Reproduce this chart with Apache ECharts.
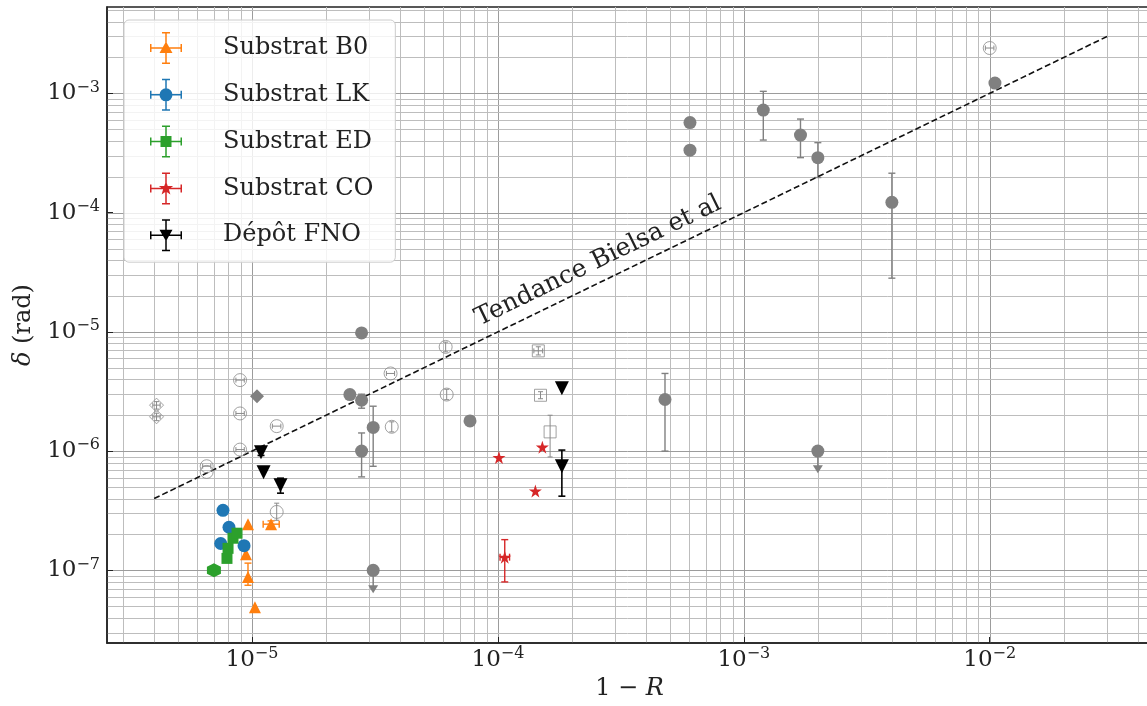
<!DOCTYPE html>
<html><head><meta charset="utf-8">
<script src="https://cdn.jsdelivr.net/npm/echarts@6/dist/echarts.min.js"></script>
<style>html,body{margin:0;padding:0;background:#fff}#c{width:1147px;height:706px}</style>
</head><body><div id="c"></div>
<script>
// Rows: [1-R, delta, xLow, xHigh, yLow, yHigh]  (null = no error bar)
const substratB0 = [
  [9.63e-6, 2.44e-7, null, null, null, null],
  [1.195e-5, 2.44e-7, 1.11e-5, 1.29e-5, 2.3e-7, 2.6e-7],
  [9.45e-6, 1.365e-7, null, null, 1.25e-7, 1.5e-7],
  [9.63e-6, 8.8e-8, null, null, 7.5e-8, 1.15e-7],
  [1.028e-5, 4.9e-8, null, null, null, null]
];
const substratLK = [
  [7.62e-6, 3.19e-7, null, null, null, null],
  [8.06e-6, 2.30e-7, null, null, null, null],
  [7.46e-6, 1.68e-7, null, null, null, null],
  [9.28e-6, 1.61e-7, null, null, null, null]
];
const substratED = [
  [7.0e-6, 1.0e-7, null, null, null, null],
  [7.91e-6, 1.26e-7, null, null, null, null],
  [7.99e-6, 1.53e-7, null, null, null, null],
  [8.37e-6, 1.86e-7, null, null, null, null],
  [8.69e-6, 2.05e-7, null, null, null, null]
];
const substratCO = [
  [1.01e-4, 8.83e-7, null, null, null, null],
  [1.516e-4, 1.08e-6, null, null, null, null],
  [1.42e-4, 4.63e-7, null, null, null, null],
  [1.066e-4, 1.29e-7, 1.02e-4, 1.115e-4, 8.0e-8, 1.81e-7]
];
const depotFNO = [
  [1.088e-5, 9.8e-7, null, null, 9.2e-7, 1.04e-6],
  [1.114e-5, 6.65e-7, null, null, null, null],
  [1.306e-5, 5.18e-7, null, null, 4.44e-7, 5.93e-7],
  [1.82e-4, 3.37e-6, null, null, null, null],
  [1.82e-4, 7.47e-7, null, null, 4.19e-7, 1.02e-6]
];
const otherFilled = [
  [6.04e-4, 5.69e-4, null, null, null, null],
  [6.04e-4, 3.34e-4, null, null, null, null],
  [1.2e-3, 7.24e-4, null, null, 4.06e-4, 1.04e-3],
  [1.70e-3, 4.47e-4, null, null, 2.89e-4, 6.09e-4],
  [2.0e-3, 2.89e-4, null, null, 1.97e-4, 3.86e-4],
  [4.0e-3, 1.22e-4, null, null, 2.82e-5, 2.14e-4],
  [1.05e-2, 1.22e-3, null, null, null, null],
  [4.78e-4, 2.71e-6, null, null, 1.0e-6, 4.48e-6],
  [2.0e-3, 1.0e-6, null, null, null, null],
  [7.70e-5, 1.79e-6, null, null, null, null],
  [2.79e-5, 9.8e-6, null, null, null, null],
  [2.50e-5, 2.98e-6, null, null, null, null],
  [2.79e-5, 2.67e-6, null, null, 2.29e-6, 3.0e-6],
  [3.11e-5, 1.58e-6, null, null, 7.46e-7, 2.38e-6],
  [2.79e-5, 1.0e-6, null, null, 6.08e-7, 1.42e-6],
  [3.11e-5, 1.0e-7, null, null, null, null]
];
// upper limits: [1-R, delta, arrow tip]
const otherUpperLimits = [
  [2.0e-3, 1.0e-6, 6.53e-7],
  [3.11e-5, 1.0e-7, 6.43e-8]
];
const otherDiamondFilled = [
  [1.048e-5, 2.89e-6, null, null, null, null]
];
const otherOpenCircles = [
  [8.94e-6, 3.94e-6, 8.6e-6, 9.3e-6, null, null],
  [8.94e-6, 2.07e-6, 8.6e-6, 9.3e-6, null, null],
  [8.94e-6, 1.03e-6, 8.6e-6, 9.3e-6, null, null],
  [1.26e-5, 1.62e-6, 1.21e-5, 1.31e-5, null, null],
  [6.54e-6, 7.47e-7, 6.3e-6, 6.8e-6, null, null],
  [6.54e-6, 6.69e-7, null, null, null, null],
  [1.26e-5, 3.09e-7, null, null, 2.63e-7, 3.66e-7],
  [3.66e-5, 4.48e-6, 3.52e-5, 3.8e-5, null, null],
  [6.13e-5, 7.48e-6, null, null, 6.8e-6, 8.2e-6],
  [6.19e-5, 2.98e-6, null, null, 2.7e-6, 3.3e-6],
  [3.70e-5, 1.60e-6, null, null, 1.45e-6, 1.76e-6],
  [1.0e-2, 2.4e-3, 9.6e-3, 1.04e-2, null, null]
];
const otherOpenDiamonds = [
  [4.09e-6, 2.43e-6, 3.95e-6, 4.23e-6, 2.25e-6, 2.6e-6],
  [4.09e-6, 1.94e-6, 3.95e-6, 4.23e-6, 1.8e-6, 2.08e-6]
];
const otherOpenSquares = [
  [1.46e-4, 6.93e-6, 1.40e-4, 1.52e-4, 6.4e-6, 7.5e-6],
  [1.49e-4, 2.94e-6, null, null, 2.75e-6, 3.15e-6],
  [1.63e-4, 1.45e-6, null, null, 8.94e-7, 2.0e-6]
];
const trendBielsa = [[4e-6, 4e-7], [3e-2, 3e-3]];
const trendLabel = 'Tendance Bielsa et al';
const xTickValues = [1e-5, 1e-4, 1e-3, 1e-2];
const yTickValues = [1e-7, 1e-6, 1e-5, 1e-4, 1e-3];
const gridMultipliers = [1, 2, 3, 4, 5, 6, 7, 8, 9];
const xRange = [2.572e-6, 0.0457];
const yRange = [2.46e-8, 5.3e-3];

const FONT = 'DejaVu Serif';
const GRAY = '#808080';
const OPENGRAY = '#8a8a8a';

function ok(v) { return v != null && isFinite(v) && v > 0; }
function errorBars(color, lw, cap) {
  return function (params, api) {
    const x = api.value(0), y = api.value(1);
    const xlo = api.value(2), xhi = api.value(3), ylo = api.value(4), yhi = api.value(5);
    const st = { stroke: color, lineWidth: lw };
    const kids = [];
    const L = (x1, y1, x2, y2) => kids.push({ type: 'line', shape: { x1, y1, x2, y2 }, style: st });
    if (ok(ylo) && ok(yhi)) {
      const a = api.coord([x, ylo]), b = api.coord([x, yhi]);
      L(a[0], a[1], b[0], b[1]);
      L(a[0] - cap, a[1], a[0] + cap, a[1]);
      L(b[0] - cap, b[1], b[0] + cap, b[1]);
    }
    if (ok(xlo) && ok(xhi)) {
      const a = api.coord([xlo, y]), b = api.coord([xhi, y]);
      L(a[0], a[1], b[0], b[1]);
      L(a[0], a[1] - cap, a[0], a[1] + cap);
      L(b[0], b[1] - cap, b[0], b[1] + cap);
    }
    return { type: 'group', children: kids };
  };
}
function upperLimitArrow(params, api) {
  const p = api.coord([api.value(0), api.value(1)]);
  const t = api.coord([api.value(0), api.value(2)]);
  return { type: 'group', children: [
    { type: 'line', shape: { x1: p[0], y1: p[1], x2: t[0], y2: t[1] - 4 }, style: { stroke: GRAY, lineWidth: 1.5 } },
    { type: 'polygon', shape: { points: [[t[0] - 5, t[1] - 8], [t[0] + 5, t[1] - 8], [t[0], t[1]]] }, style: { fill: GRAY } }
  ] };
}
function errSeries(name, data, color, lw, cap, z) {
  return { type: 'custom', name, data, renderItem: errorBars(color, lw, cap), encode: { x: 0, y: 1 },
    itemStyle: { color }, z: z || 3, silent: true, clip: false };
}
function scatter(name, data, symbol, size, color, extra) {
  return Object.assign({ type: 'scatter', name, data, symbol, symbolSize: size, encode: { x: 0, y: 1 },
    itemStyle: { color, opacity: 1 }, z: 5, silent: true }, extra || {});
}

// grid lines at k * 10^n, drawn through the axes
function gridValues(range) {
  const out = [];
  const e0 = Math.floor(Math.log10(range[0])), e1 = Math.ceil(Math.log10(range[1]));
  for (let e = e0; e <= e1; e++) {
    gridMultipliers.forEach(k => {
      const v = k * Math.pow(10, e);
      if (v > range[0] * 1.001 && v < range[1] * 0.999) out.push([v, k]);
    });
  }
  return out;
}
const vGrid = gridValues(xRange).map(r => [r[0], yRange[0], r[1]]);
const hGrid = gridValues(yRange).map(r => [xRange[0], r[0], r[1]]);
function gridRender(vertical) {
  return function (params, api) {
    const cs = params.coordSys;
    const p = api.coord([api.value(0), api.value(1)]);
    const major = api.value(2) === 1;
    const style = { stroke: major ? '#9c9c9c' : '#bdbdbd', lineWidth: 1 };
    const shape = vertical
      ? { x1: Math.round(p[0]) + 0.5, y1: cs.y, x2: Math.round(p[0]) + 0.5, y2: cs.y + cs.height }
      : { x1: cs.x, y1: Math.round(p[1]) + 0.5, x2: cs.x + cs.width, y2: Math.round(p[1]) + 0.5 };
    return { type: 'line', shape, style };
  };
}

// legend icons (error-bar cross + marker) in 32x32 box
const XB = 'M0,15.25 L32,15.25 L32,16.75 L0,16.75 Z M15.25,0 L16.75,0 L16.75,32 L15.25,32 Z ' +
  'M12,0 L20,0 L20,1.5 L12,1.5 Z M12,30.5 L20,30.5 L20,32 L12,32 Z ' +
  'M0,12 L1.5,12 L1.5,20 L0,20 Z M30.5,12 L32,12 L32,20 L30.5,20 Z ';
const ICONS = {
  'Substrat B0': 'path://' + XB + 'M16,9.5 L22.5,21 L9.5,21 Z',
  'Substrat LK': 'path://' + XB + 'M22.5,16 A6.5,6.5 0 1,1 9.5,16 A6.5,6.5 0 1,1 22.5,16 Z',
  'Substrat ED': 'path://' + XB + 'M10.5,10.5 L21.5,10.5 L21.5,21.5 L10.5,21.5 Z',
  'Substrat CO': 'path://' + XB + 'M16,8.5 L17.76,13.57 L23.13,13.68 L18.85,16.93 L20.41,22.07 L16,19 L11.59,22.07 L13.15,16.93 L8.87,13.68 L14.24,13.57 Z',
  'Dépôt FNO': 'path://' + XB + 'M9.5,10.5 L22.5,10.5 L16,22 Z'
};
const LEGEND_COLORS = { 'Substrat B0': '#ff7f0e', 'Substrat LK': '#1f77b4', 'Substrat ED': '#2ca02c', 'Substrat CO': '#d62728', 'Dépôt FNO': '#000000' };
const STAR = 'path://M0,-1 L0.2245,-0.309 L0.951,-0.309 L0.363,0.118 L0.588,0.809 L0,0.382 L-0.588,0.809 L-0.363,0.118 L-0.951,-0.309 L-0.2245,-0.309 Z';
const HEX = 'path://M0,-1 L0.866,-0.5 L0.866,0.5 L0,1 L-0.866,0.5 L-0.866,-0.5 Z';

function tickFmt(v) {
  const e = Math.log10(v), n = Math.round(e);
  if (Math.abs(e - n) > 1e-6) return '';
  return '{b|10}{s|' + (n < 0 ? '\u2212' + (-n) : n) + '}';
}
const tickRich = {
  b: { fontFamily: FONT, fontSize: 23, lineHeight: 28, color: '#222' },
  s: { fontFamily: FONT, fontSize: 16, lineHeight: 15, verticalAlign: 'top', color: '#222' }
};

const chart = echarts.init(document.getElementById('c'), null, { renderer: 'canvas' });
const legendNames = ['Substrat B0', 'Substrat LK', 'Substrat ED', 'Substrat CO', 'Dépôt FNO'];

const option = {
  animation: false,
  backgroundColor: '#fff',
  grid: { left: 107, top: 7, right: -5, bottom: 63, show: true, borderColor: '#222', borderWidth: 1.5, outerBoundsMode: 'none', containLabel: false },
  xAxis: {
    type: 'log', logBase: 10, min: xRange[0], max: xRange[1],
    axisLine: { show: true, lineStyle: { color: '#222', width: 1.5 } },
    axisTick: { show: true, inside: true, length: 6, lineStyle: { color: '#222' }, customValues: xTickValues },
    axisLabel: { formatter: tickFmt, rich: tickRich, margin: 3, customValues: xTickValues },
    splitLine: { show: false }, minorTick: { show: false }, minorSplitLine: { show: false },
    name: '{n|1 \u2212 }{i|R}', nameLocation: 'middle', nameGap: 32,
    nameTextStyle: { rich: { n: { fontFamily: FONT, fontSize: 24, color: '#222' }, i: { fontFamily: FONT, fontSize: 24, fontStyle: 'italic', color: '#222' } } }
  },
  yAxis: {
    type: 'log', logBase: 10, min: yRange[0], max: yRange[1],
    axisLine: { show: true, lineStyle: { color: '#222', width: 1.5 } },
    axisTick: { show: true, inside: true, length: 6, lineStyle: { color: '#222' }, customValues: yTickValues },
    axisLabel: { formatter: tickFmt, rich: tickRich, margin: 7, customValues: yTickValues },
    splitLine: { show: false }, minorTick: { show: false }, minorSplitLine: { show: false },
    name: '{i|\u03b4} (rad)', nameLocation: 'middle', nameGap: 64, nameRotate: 90,
    nameTextStyle: { fontFamily: FONT, fontSize: 24, color: '#222', rich: { i: { fontFamily: FONT, fontSize: 24, fontStyle: 'italic', color: '#222' } } }
  },
  legend: {
    orient: 'vertical', left: 124, top: 20, itemWidth: 32, itemHeight: 32, itemGap: 14.8,
    padding: [12, 22, 11, 26],
    backgroundColor: 'rgba(255,255,255,0.82)', borderColor: '#cccccc', borderWidth: 1, borderRadius: 5,
    formatter: n => '{t|' + n + '}',
    textStyle: { fontFamily: FONT, fontSize: 24, color: '#222', rich: { t: { fontFamily: FONT, fontSize: 24, color: '#222', padding: [0, 0, 0, 36] } } },
    selectedMode: false,
    data: legendNames.map(n => ({ name: n, icon: ICONS[n], itemStyle: { color: LEGEND_COLORS[n] } }))
  },
  series: [
    { type: 'custom', name: 'vgrid', data: vGrid, encode: { x: 0, y: 1 }, renderItem: gridRender(true), z: 0, silent: true },
    { type: 'custom', name: 'hgrid', data: hGrid, encode: { x: 0, y: 1 }, renderItem: gridRender(false), z: 0, silent: true },
    { type: 'line', name: 'trend', data: trendBielsa, showSymbol: false, silent: true, z: 4,
      lineStyle: { color: '#111', width: 1.6, type: [6, 3] } },
    // legend groups (scatter first so the legend takes their colour)
    scatter('Substrat B0', substratB0, 'triangle', 12, '#ff7f0e'),
    errSeries('Substrat B0', substratB0, '#ff7f0e', 1.4, 3.5, 4),
    scatter('Substrat LK', substratLK, 'circle', 13, '#1f77b4'),
    errSeries('Substrat LK', substratLK, '#1f77b4', 1.4, 3.5, 4),
    scatter('Substrat ED', substratED.map((r, i) => i === 0 ? { value: r, symbol: HEX, symbolSize: 14 } : r), 'rect', 11, '#2ca02c'),
    errSeries('Substrat ED', substratED, '#2ca02c', 1.4, 3.5, 4),
    scatter('Substrat CO', substratCO, STAR, 13, '#d62728'),
    errSeries('Substrat CO', substratCO, '#d62728', 1.4, 3.5, 4),
    scatter('Dépôt FNO', depotFNO, 'triangle', 14, '#000000', { symbolRotate: 180 }),
    errSeries('Dépôt FNO', depotFNO, '#000000', 1.6, 3.5, 4),
    // others (gray)
    errSeries('otherErr', otherFilled, GRAY, 1.4, 3.5),
    { type: 'custom', name: 'otherUL', data: otherUpperLimits, renderItem: upperLimitArrow, encode: { x: 0, y: 1 }, z: 3, silent: true },
    scatter('otherFilled', otherFilled, 'circle', 13, GRAY),
    scatter('otherDiamond', otherDiamondFilled, 'diamond', 14, GRAY),
    errSeries('otherOpenErr', otherOpenCircles, OPENGRAY, 1, 2.5),
    errSeries('otherOpenDErr', otherOpenDiamonds, OPENGRAY, 1, 2.5),
    errSeries('otherOpenSErr', otherOpenSquares, OPENGRAY, 1, 2.5),
    scatter('otherOpenC', otherOpenCircles, 'circle', 13, 'rgba(255,255,255,0)', { itemStyle: { color: 'rgba(255,255,255,0)', borderColor: OPENGRAY, borderWidth: 1 } }),
    scatter('otherOpenD', otherOpenDiamonds, 'diamond', 14, 'rgba(255,255,255,0)', { itemStyle: { color: 'rgba(255,255,255,0)', borderColor: OPENGRAY, borderWidth: 1 } }),
    scatter('otherOpenS', otherOpenSquares, 'rect', 12, 'rgba(255,255,255,0)', { itemStyle: { color: 'rgba(255,255,255,0)', borderColor: OPENGRAY, borderWidth: 1 } })
  ]
};
chart.setOption(option);

// trend label along the dashed line
const p1 = chart.convertToPixel({ xAxisIndex: 0, yAxisIndex: 0 }, trendBielsa[0]);
const p2 = chart.convertToPixel({ xAxisIndex: 0, yAxisIndex: 0 }, trendBielsa[1]);
const ang = Math.atan2(p1[1] - p2[1], p2[0] - p1[0]);
const t = 0.475;
const cx = p1[0] + (p2[0] - p1[0]) * t - Math.sin(ang) * 20;
const cy = p1[1] + (p2[1] - p1[1]) * t - Math.cos(ang) * 20;
chart.setOption({ graphic: [{ type: 'text', x: cx, y: cy, rotation: ang, z: 10, silent: true,
  style: { text: trendLabel, font: '25px "DejaVu Serif"', fill: '#222', align: 'center', verticalAlign: 'middle' } }] });
</script></body></html>
